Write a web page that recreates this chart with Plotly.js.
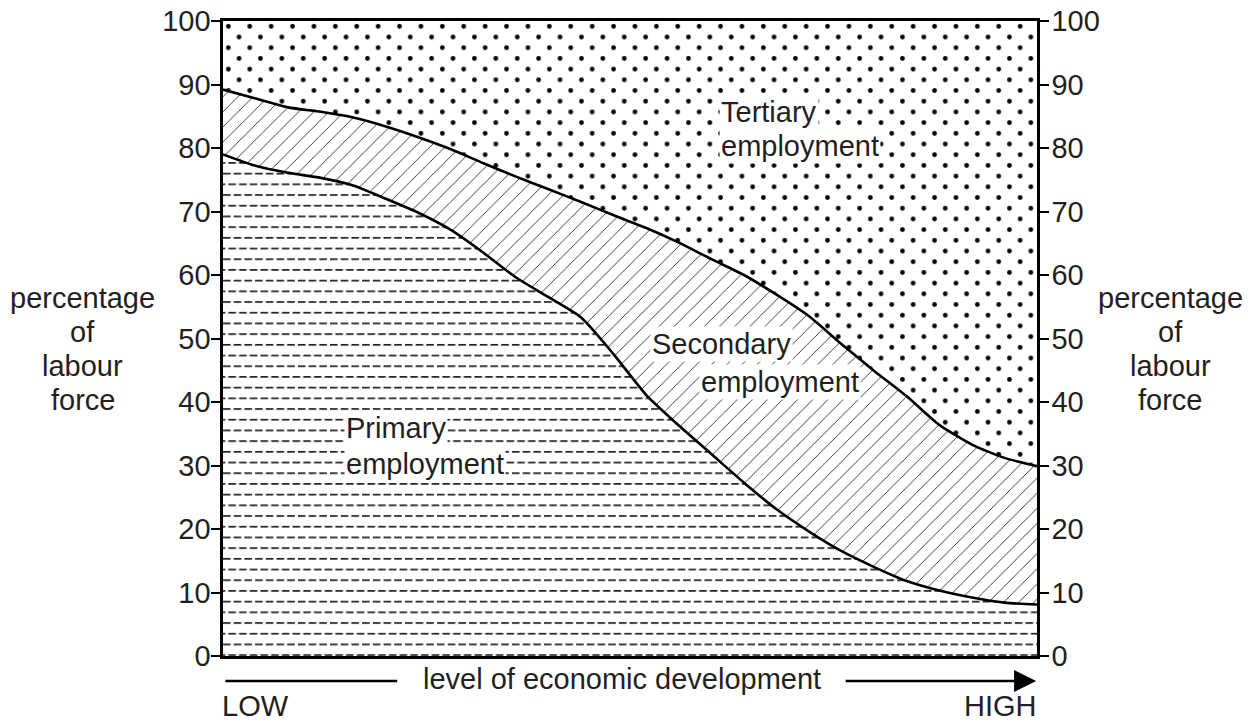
<!DOCTYPE html>
<html><head><meta charset="utf-8">
<script src="https://cdn.plot.ly/plotly-3.0.1.min.js"></script>
<style>html,body{margin:0;padding:0;background:#fff}#chart{width:1255px;height:722px}</style>
</head><body><div id="chart"></div>
<script>
// level of economic development (LOW = 0 ... HIGH = 100)
const devLevel     = [0, 4, 8, 12, 16, 20, 24, 28, 32, 36, 40, 44, 48, 52, 56, 60, 64, 68, 72, 76, 80, 84, 88, 92, 96, 100];
// percentage of labour force in each sector
const primaryPct   = [79.0, 77.2, 76.1, 75.3, 74.1, 72.0, 69.8, 67.1, 63.5, 59.6, 56.5, 53.3, 47.5, 41.1, 36.3, 31.8, 27.3, 23.1, 19.6, 16.5, 14.0, 11.8, 10.3, 9.2, 8.4, 8.1];
const secondaryPct = [10.2, 10.6, 10.3, 10.4, 10.7, 11.4, 11.9, 12.7, 14.1, 15.9, 17.0, 18.2, 21.9, 26.3, 28.8, 30.7, 32.7, 33.8, 33.9, 32.6, 30.9, 29.1, 26.1, 24.1, 22.8, 21.8];
const tertiaryPct  = [10.8, 12.2, 13.6, 14.3, 15.2, 16.6, 18.3, 20.2, 22.4, 24.5, 26.5, 28.5, 30.6, 32.6, 34.9, 37.5, 40.0, 43.1, 46.5, 50.9, 55.1, 59.1, 63.6, 66.7, 68.8, 70.1];
const yTickVals    = [0, 10, 20, 30, 40, 50, 60, 70, 80, 90, 100];
const yTickText    = ['0', '10', '20', '30', '40', '50', '60', '70', '80', '90', '100'];
const sideTitle    = ['percentage', 'of', 'labour', 'force'];

const ink = '#231f20';
const FONT = 'Liberation Sans, Arial, Helvetica, sans-serif';
const FS = 29;

// pattern tiles (custom fill paths inside a size x size square)
const T = 21.4;
function rect(x, y, w, h) { return 'M' + x + ',' + y + 'h' + w + 'v' + h + 'h' + (-w) + 'Z'; }
const dl = 7.6, dt = 1.7, hh = T / 2;
const wrap = T - (hh / 2 + hh);
const dashPath = rect(0, 2, dl, dt) + rect(hh, 2, dl, dt) +
                 rect(hh / 2, 2 + hh, dl, dt) + rect(hh / 2 + hh, 2 + hh, wrap, dt) + rect(0, 2 + hh, dl - wrap, dt);
function dot(cx, cy, r) { return 'M' + (cx - r) + ',' + cy + 'a' + r + ',' + r + ' 0 1,0 ' + (2 * r) + ',0a' + r + ',' + r + ' 0 1,0 ' + (-2 * r) + ',0Z'; }
const dotPath = dot(T / 4, T / 4, 2.4) + dot(3 * T / 4, 3 * T / 4, 2.4);

const lineStyle = {color: '#000', width: 2.6, shape: 'spline', smoothing: 0.6};

const traces = [
  {x: devLevel, y: primaryPct, stackgroup: 'one', mode: 'lines', line: lineStyle, hoverinfo: 'skip',
   fillcolor: 'white', fillpattern: {path: dashPath, size: T, fgcolor: ink, bgcolor: 'white', fillmode: 'replace'}},
  {x: devLevel, y: secondaryPct, stackgroup: 'one', mode: 'lines', line: lineStyle, hoverinfo: 'skip',
   fillcolor: 'white', fillpattern: {shape: '/', size: 10.7, solidity: 0.08, fgcolor: ink, bgcolor: 'white', fillmode: 'replace'}},
  {x: devLevel, y: tertiaryPct, stackgroup: 'one', mode: 'lines', line: {width: 0, color: '#000'}, hoverinfo: 'skip',
   fillcolor: 'white', fillpattern: {path: dotPath, size: T, fgcolor: '#000', bgcolor: 'white', fillmode: 'replace'}},
  // registers the right-hand percentage axis
  {x: [], y: [], yaxis: 'y2', mode: 'lines', hoverinfo: 'skip', showlegend: false}
];

const yax = {
  range: [0, 100], tickmode: 'array', tickvals: yTickVals, ticktext: yTickText,
  ticks: 'outside', ticklen: 9, tickwidth: 2, tickcolor: '#000',
  showline: true, linewidth: 2.6, linecolor: '#000', showgrid: false, zeroline: false,
  tickfont: {family: FONT, size: FS, color: ink}, fixedrange: true
};

const txt = (t, x, y) => ({text: t, x: x, y: y, xref: 'x', yref: 'y', showarrow: false,
  xanchor: 'left', yanchor: 'middle', bgcolor: 'white', borderpad: 1,
  font: {family: FONT, size: FS, color: ink}});

const sideY = [56.4, 51.0, 45.7, 40.3];
const sideAnn = [];
sideTitle.forEach((t, i) => {
  [-0.1725, 1.1637].forEach(px => sideAnn.push({text: t, xref: 'paper', yref: 'y', x: px, y: sideY[i], showarrow: false,
    xanchor: 'center', yanchor: 'middle', font: {family: FONT, size: FS, color: ink}}));
});

const layout = {
  width: 1255, height: 722,
  margin: {l: 223, r: 218, t: 21, b: 66},
  paper_bgcolor: 'white', plot_bgcolor: 'white',
  showlegend: false,
  font: {family: FONT, size: FS, color: ink},
  xaxis: {range: [0, 100], showline: true, mirror: true, linewidth: 2.6, linecolor: '#000',
          ticks: '', showticklabels: false, showgrid: false, zeroline: false, fixedrange: true},
  yaxis: Object.assign({}, yax, {ticklabelstandoff: -5}),
  yaxis2: Object.assign({}, yax, {overlaying: 'y', side: 'right', ticklabelstandoff: -3}),
  shapes: [
    {type: 'line', xref: 'x', yref: 'paper', x0: 0.3, x1: 21.4, y0: -0.0394, y1: -0.0394, line: {color: '#000', width: 2.6}}
  ],
  annotations: [
    txt('Tertiary', 60.9, 85.7),
    txt('employment', 60.9, 80.3),
    txt('Secondary', 52.5, 49.1),
    txt('employment', 58.5, 43.2),
    txt('Primary', 14.9, 35.9),
    txt('employment', 14.9, 30.2),
    {text: 'level of economic development', xref: 'paper', yref: 'paper', x: 0.4905, y: -0.037, showarrow: false,
     xanchor: 'center', yanchor: 'middle', font: {family: FONT, size: FS, color: ink}},
    {text: '', xref: 'x', yref: 'paper', x: 99.9, y: -0.0394, ax: -192, ay: 0, showarrow: true,
     arrowhead: 2, arrowsize: 1.7, arrowwidth: 2.6, arrowcolor: '#000', standoff: 0},
    {text: 'LOW', xref: 'paper', yref: 'paper', x: -0.004, y: -0.0787, showarrow: false, xanchor: 'left', yanchor: 'middle',
     font: {family: FONT, size: FS, color: ink}},
    {text: 'HIGH', xref: 'paper', yref: 'paper', x: 1.003, y: -0.0787, showarrow: false, xanchor: 'right', yanchor: 'middle',
     font: {family: FONT, size: FS, color: ink}}
  ].concat(sideAnn)
};

Plotly.newPlot('chart', traces, layout, {staticPlot: true, displayModeBar: false});
</script>
</body></html>
